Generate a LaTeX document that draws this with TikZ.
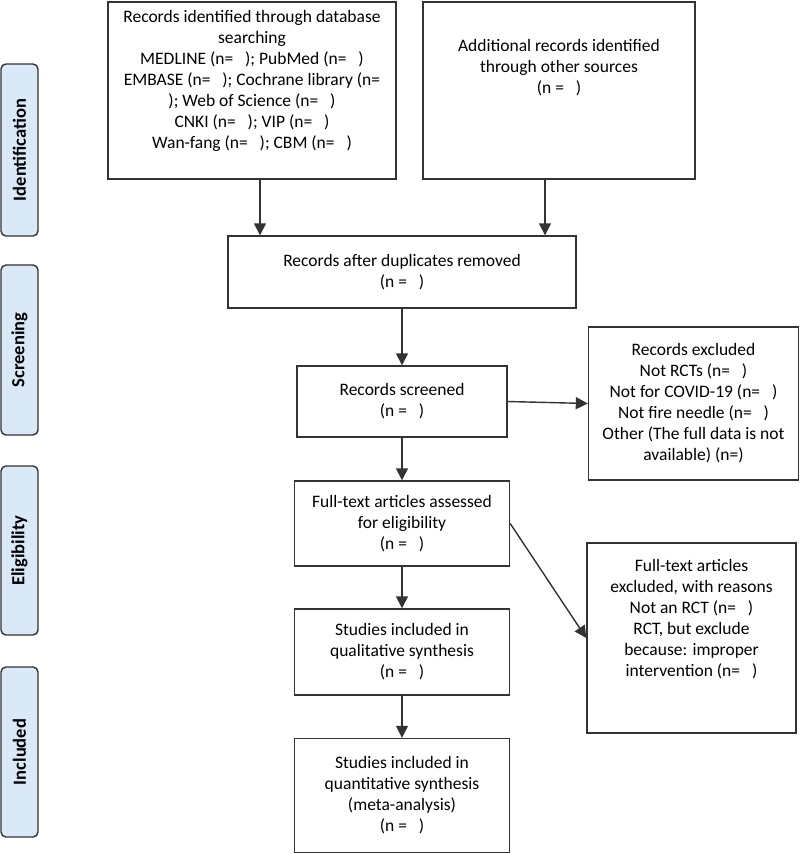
\documentclass[tikz,border=0pt]{standalone}
\usepackage{fontspec}
\setmainfont{Carlito}
\usetikzlibrary{arrows.meta}

\definecolor{boxline}{HTML}{333333}
\definecolor{stagefill}{HTML}{DAE9F8}

% extra room under the last line of a box
\newcommand{\padlow}[1]{\rule[-#1]{0pt}{#1}}

\tikzset{
    every picture/.style={x=1pt, y=-1pt},
    flowbox/.style={draw=boxline, line width=1.4pt, inner sep=0pt, align=center,
        font=\fontsize{17.5}{21}\selectfont},
    stagebox/.style={draw=boxline, line width=1.4pt, fill=stagefill, rounded corners=5pt,
        rotate=90, minimum height=37pt, inner sep=0pt,
        font=\fontsize{18.5}{22}\selectfont\bfseries},
    arr/.style={draw=boxline, line width=1.4pt, -{Triangle[length=12pt,width=12pt]}}
}

\begin{document}
\begin{tikzpicture}

    \useasboundingbox (0,0) rectangle (800,854);

    % Stage labels on the left
    \node[stagebox, minimum width=172pt] (ident) at (19.5,150) {Identification};
    \node[stagebox, minimum width=170pt] (scrn) at (19.5,350) {Screening};
    \node[stagebox, minimum width=169pt] (elig) at (19.5,550.5) {Eligibility};
    \node[stagebox, minimum width=170pt] (incl) at (19.5,752) {Included};

    % Identification
    \node[flowbox, minimum width=288pt, minimum height=177pt] (db) at (252,90.5)
        {Records identified through database\\ searching\\
         MEDLINE (n=\ \ \ ); PubMed (n=\ \ \ )\\
         EMBASE (n=\ \ \ ); Cochrane library (n=\\
         ); Web of Science (n=\ \ \ )\\
         CNKI (n=\ \ \ ); VIP (n=\ \ \ )\\
         Wan-fang (n=\ \ \ ); CBM (n=\ \ \ )\padlow{23pt}};
    \node[flowbox, minimum width=272pt, minimum height=177pt] (other) at (559,90.5)
        {Additional records identified\\ through other sources\\ (n =\ \ \ )\padlow{49pt}};

    % Screening
    \node[flowbox, minimum width=348pt, minimum height=72pt] (dup) at (402,272)
        {Records after duplicates removed\\ (n =\ \ \ )};
    \node[flowbox, minimum width=210pt, minimum height=71pt] (screen) at (402,401.5)
        {Records screened\\ (n =\ \ \ )};
    \node[flowbox, minimum width=210pt, minimum height=153pt] (excl) at (693.5,403.5)
        {Records excluded\\ Not RCTs (n=\ \ \ )\\ Not for COVID-19 (n=\ \ \ )\\
         Not fire needle (n=\ \ \ )\\ Other (The full data is not\\ available) (n=)};

    % Eligibility
    \node[flowbox, minimum width=215pt, minimum height=85pt] (full) at (402,523.5)
        {Full-text articles assessed\\ for eligibility\\ (n =\ \ \ )};
    \node[flowbox, minimum width=209pt, minimum height=190pt] (fullex) at (691.5,638)
        {Full-text articles\\ excluded, with reasons\\ Not an RCT (n=\ \ \ )\\
         RCT, but exclude\\ because: improper\\ intervention (n=\ \ \ )\padlow{40pt}};

    % Included
    \node[flowbox, minimum width=215pt, minimum height=86pt] (qual) at (402,652)
        {Studies included in\\ qualitative synthesis\\ (n =\ \ \ )};
    \node[flowbox, minimum width=215pt, minimum height=114pt] (quant) at (402,795.5)
        {Studies included in\\ quantitative synthesis\\ (meta-analysis)\\ (n =\ \ \ )};

    % Arrows
    \draw[arr] ([xshift=8pt]db.south) -- ([xshift=8pt]db.south |- dup.north);
    \draw[arr] ([xshift=-14pt]other.south) -- ([xshift=-14pt]other.south |- dup.north);
    \draw[arr] (dup.south) -- (screen.north);
    \draw[arr] (screen.east) -- (excl.west);
    \draw[arr] (screen.south) -- (full.north);
    \draw[arr] (full.east) -- (fullex.west);
    \draw[arr] (full.south) -- (qual.north);
    \draw[arr] (qual.south) -- (quant.north);

\end{tikzpicture}
\end{document}
